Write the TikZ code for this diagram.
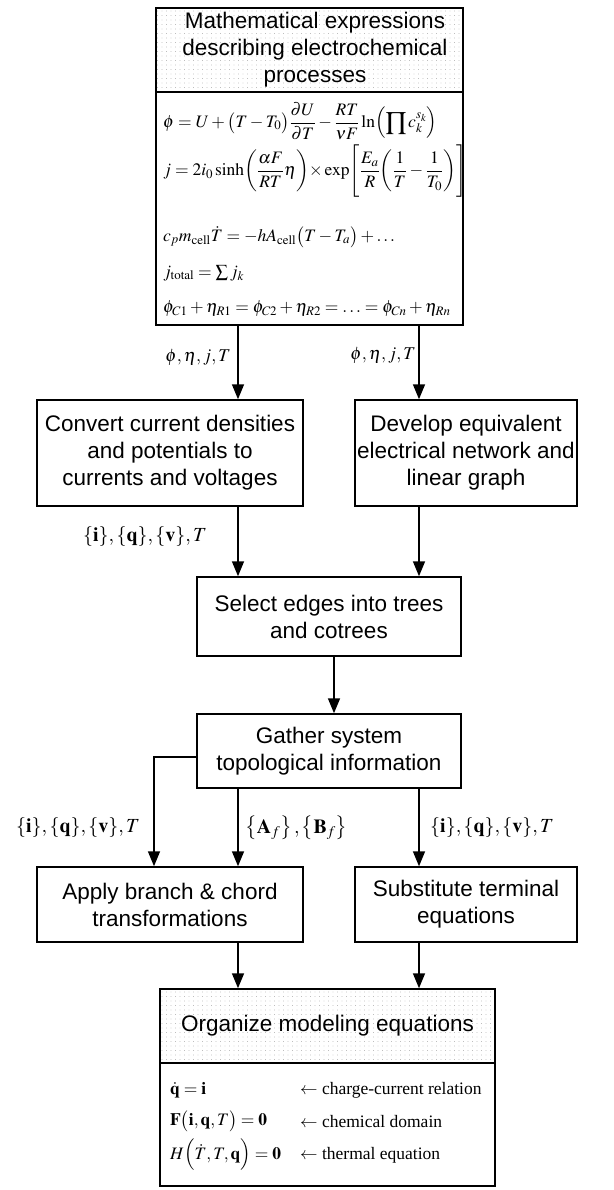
\documentclass[tikz,border=0pt]{standalone}
\usepackage{mathptmx}
\usepackage[no-math]{fontspec}
\setmainfont{Liberation Serif}
\setsansfont{Liberation Sans}
\usetikzlibrary{arrows.meta,patterns.meta}

\tikzset{
  procbox/.style={draw, line width=1.5pt, align=center, inner sep=0pt,
    font=\sffamily\fontsize{22.5}{27}\selectfont},
  headbox/.style={procbox, pattern={Dots[radius=0.45pt,distance=4.5pt]}, pattern color=black!40},
  headtext/.style={align=center, inner sep=0pt, font=\sffamily\fontsize{22.5}{27}\selectfont},
  eqbox/.style={draw, line width=1.5pt, inner sep=0pt},
  flowarrow/.style={line width=1.6pt, -{Triangle[length=15pt,width=12pt]}},
  varlabel/.style={inner sep=0pt, font=\fontsize{20}{24}\selectfont},
  eqline/.style={anchor=west, inner sep=0pt, font=\fontsize{17.5}{21}\selectfont},
}

\begin{document}
\begin{tikzpicture}[x=1pt, y=-1pt]
  \useasboundingbox (0,0) rectangle (613,1190);

  % top block: expressions
  \node[headbox, minimum width=307pt, minimum height=84pt] (mathhead) at (309.5,50) {};
  \node[headtext] (mathtitle) at (315,50)
    {Mathematical expressions\\describing electrochemical\\processes};
  \node[eqbox, minimum width=307pt, minimum height=233pt] (mathbody) at (309.5,208.5) {};
  \node[eqline] (eqa) at (163,121)
    {$\displaystyle \phi = U + \bigl(T - T_0\bigr)\frac{\partial U}{\partial T} - \frac{RT}{\nu F}\ln\Bigl(\prod c_k^{s_k}\Bigr)$};
  \node[eqline] (eqb) at (163,171)
    {$\displaystyle j = 2i_0\sinh\biggl(\frac{\alpha F}{RT}\eta\biggr)\mathord{\times}\exp\Biggl[\frac{E_a}{R}\biggl(\frac{1}{T}-\frac{1}{T_0}\biggr)\Biggr]$};
  \node[eqline] (eqc) at (163,237)
    {$c_p m_{\mathrm{cell}}\dot{T} = -hA_{\mathrm{cell}}\bigl(T - T_a\bigr) + \ldots$};
  \node[eqline] (eqd) at (163,273)
    {$j_{\mathrm{total}} = \sum j_k$};
  \node[eqline] (eqe) at (163,309)
    {$\phi_{C1} + \eta_{R1} = \phi_{C2} + \eta_{R2} = \ldots = \phi_{Cn} + \eta_{Rn}$};

  % process boxes
  \node[procbox, minimum width=266pt, minimum height=106pt] (convert) at (170,453)
    {Convert current densities\\and potentials to\\currents and voltages};
  \node[procbox, minimum width=222pt, minimum height=106pt] (develop) at (466,453)
    {Develop equivalent\\electrical network and\\linear graph};
  \node[procbox, minimum width=264pt, minimum height=79pt] (select) at (329,616.5)
    {Select edges into trees\\and cotrees};
  \node[procbox, minimum width=264pt, minimum height=74pt] (gather) at (329,751)
    {Gather system\\topological information};
  \node[procbox, minimum width=266pt, minimum height=75pt] (apply) at (170,904.5)
    {Apply branch \& chord\\transformations};
  \node[procbox, minimum width=222pt, minimum height=75pt] (subst) at (466,904.5)
    {Substitute terminal\\equations};

  % bottom block: modeling equations
  \node[headbox, minimum width=335pt, minimum height=74pt] (orghead) at (327.5,1026)
    {Organize modeling equations};
  \node[eqbox, minimum width=335pt, minimum height=123pt] (orgbody) at (327.5,1124.5) {};
  \node[eqline] (oqa) at (170,1090) {$\dot{\mathbf{q}} = \mathbf{i}$};
  \node[eqline] (oqb) at (170,1121) {$\mathbf{F}\bigl(\mathbf{i},\mathbf{q},T\bigr) = \mathbf{0}$};
  \node[eqline] (oqc) at (170,1155) {$H\Bigl(\dot{T},T,\mathbf{q}\Bigr) = \mathbf{0}$};
  \node[eqline] (ota) at (300,1090) {$\leftarrow$ charge-current relation};
  \node[eqline] (otb) at (300,1121) {$\leftarrow$ chemical domain};
  \node[eqline] (otc) at (300,1155) {$\leftarrow$ thermal equation};

  % columns of the connectors
  \coordinate (colL) at (238,0);
  \coordinate (colR) at (419,0);
  \coordinate (colM) at (334,0);
  \coordinate (colF) at (154,0);

  \draw[flowarrow] (mathbody.south -| colL) -- (convert.north -| colL);
  \draw[flowarrow] (mathbody.south -| colR) -- (develop.north -| colR);
  \draw[flowarrow] (convert.south -| colL) -- (select.north -| colL);
  \draw[flowarrow] (develop.south -| colR) -- (select.north -| colR);
  \draw[flowarrow] (select.south -| colM) -- (gather.north -| colM);
  \draw[flowarrow] ([yshift=-6pt]gather.west) -| (apply.north -| colF);
  \draw[flowarrow] (gather.south -| colL) -- (apply.north -| colL);
  \draw[flowarrow] (gather.south -| colR) -- (subst.north -| colR);
  \draw[flowarrow] (apply.south -| colL) -- (orghead.north -| colL);
  \draw[flowarrow] (subst.south -| colR) -- (orghead.north -| colR);

  % connector labels
  \node[varlabel, font=\fontsize{18}{22}\selectfont] (phiL) at (198,357) {$\phi,\eta, j,T$};
  \node[varlabel, font=\fontsize{18}{22}\selectfont] (phiR) at (383,355) {$\phi,\eta, j,T$};
  \node[varlabel] (ivC) at (145,537) {$\{\mathbf{i}\},\{\mathbf{q}\},\{\mathbf{v}\},T$};
  \node[varlabel] (ivA) at (78,828) {$\{\mathbf{i}\},\{\mathbf{q}\},\{\mathbf{v}\},T$};
  \node[varlabel, anchor=west] (ABf) at (245,828) {$\left\{\mathbf{A}_f\right\},\left\{\mathbf{B}_f\right\}$};
  \node[varlabel, anchor=west] (ivS) at (430,828) {$\{\mathbf{i}\},\{\mathbf{q}\},\{\mathbf{v}\},T$};
\end{tikzpicture}
\end{document}
